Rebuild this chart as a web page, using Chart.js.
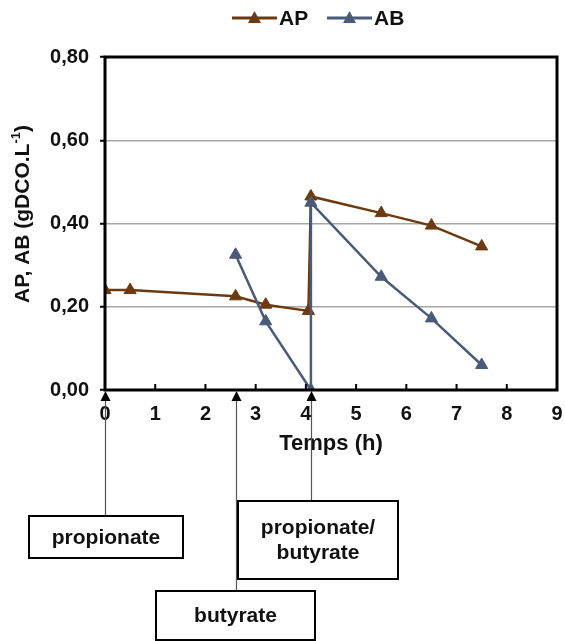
<!DOCTYPE html>
<html lang="fr">
<head>
    <meta charset="UTF-8">
    <title>AP, AB vs temps</title>
    <script src="https://cdn.jsdelivr.net/npm/chart.js"></script>
    <style>
        body { margin: 0; padding: 0; background: #fff; }
        #wrap { width: 565px; height: 641px; }
    </style>
</head>
<body>
<div id="wrap"><canvas id="chart" width="565" height="641"></canvas></div>
<script>
    // data
    const apTime = [0, 0.5, 2.6, 3.2, 4.05, 4.1, 5.5, 6.5, 7.5];
    const apValues = [0.24, 0.24, 0.225, 0.205, 0.19, 0.465, 0.425, 0.395, 0.345];
    const abTime = [2.6, 3.2, 4.1, 4.1, 5.5, 6.5, 7.5];
    const abValues = [0.325, 0.165, 0.0, 0.45, 0.272, 0.172, 0.06];
    const seriesNames = ['AP', 'AB'];
    const seriesColors = ['#6b3a0f', '#4a5b78'];
    const xTicks = [0, 1, 2, 3, 4, 5, 6, 7, 8, 9];
    const yTicks = [0, 0.2, 0.4, 0.6, 0.8];
    // injection times and their labels
    const injTime = [0, 2.6, 4.1];
    const injLabels = [['propionate'], ['butyrate'], ['propionate/', 'butyrate']];

    const FONT = "'Liberation Sans', Arial, sans-serif";

    function toPoints(xs, ys) {
        return xs.map((x, i) => ({ x: x, y: ys[i] }));
    }

    // boxes under the axis (left, top, width, height)
    const boxes = [
        { x: 29, y: 516, w: 154, h: 42 },
        { x: 156, y: 591, w: 159, h: 49 },
        { x: 238, y: 501, w: 160, h: 78 }
    ];

    const decor = {
        id: 'decor',
        afterDraw(chart) {
            const c = chart.ctx;
            const xs = chart.scales.x;
            const area = chart.chartArea;
            c.save();
            // inner x tick marks
            c.strokeStyle = '#000';
            c.lineWidth = 2;
            xTicks.forEach(t => {
                if (t === 0 || t === 9) return;
                const px = xs.getPixelForValue(t);
                c.beginPath();
                c.moveTo(px, area.bottom);
                c.lineTo(px, area.bottom - 6);
                c.stroke();
            });
            // frame
            c.lineWidth = 3;
            c.strokeRect(area.left, area.top, area.right - area.left, area.bottom - area.top);

            // y axis title with superscript
            c.fillStyle = '#111';
            c.translate(29, 214);
            c.rotate(-Math.PI / 2);
            c.textBaseline = 'alphabetic';
            c.textAlign = 'left';
            const main = 'AP, AB (gDCO.L';
            const sup = '-1';
            const tail = ')';
            c.font = 'bold 21px ' + FONT;
            const w1 = c.measureText(main).width;
            const w3 = c.measureText(tail).width;
            c.font = 'bold 13px ' + FONT;
            const w2 = c.measureText(sup).width;
            let x0 = -(w1 + w2 + w3) / 2;
            c.font = 'bold 21px ' + FONT;
            c.fillText(main, x0, 0);
            c.font = 'bold 13px ' + FONT;
            c.fillText(sup, x0 + w1, -9);
            c.font = 'bold 21px ' + FONT;
            c.fillText(tail, x0 + w1 + w2, 0);
            c.setTransform(1, 0, 0, 1, 0, 0);

            // injection arrows and boxes
            injTime.forEach((t, i) => {
                const px = Math.round(xs.getPixelForValue(t)) + 0.5;
                const b = boxes[i];
                c.strokeStyle = '#555';
                c.lineWidth = 1.2;
                c.beginPath();
                c.moveTo(px, area.bottom + 8);
                c.lineTo(px, b.y);
                c.stroke();
                c.fillStyle = '#000';
                c.beginPath();
                c.moveTo(px, area.bottom + 1);
                c.lineTo(px - 5, area.bottom + 11);
                c.lineTo(px + 5, area.bottom + 11);
                c.closePath();
                c.fill();

                c.strokeStyle = '#000';
                c.lineWidth = 2;
                c.fillStyle = '#fff';
                c.fillRect(b.x, b.y, b.w, b.h);
                c.strokeRect(b.x, b.y, b.w, b.h);
                c.fillStyle = '#111';
                c.font = 'bold 21px ' + FONT;
                c.textAlign = 'center';
                c.textBaseline = 'middle';
                const lines = injLabels[i];
                const lh = 25;
                lines.forEach((s, k) => {
                    c.fillText(s, b.x + b.w / 2, b.y + b.h / 2 + (k - (lines.length - 1) / 2) * lh + 1);
                });
            });

            // legend: line + triangle marker + name
            const legX = [232, 327];
            const legY = 18;
            seriesNames.forEach((name, i) => {
                const lx = legX[i];
                c.strokeStyle = seriesColors[i];
                c.lineWidth = 3;
                c.beginPath();
                c.moveTo(lx, legY);
                c.lineTo(lx + 45, legY);
                c.stroke();
                c.fillStyle = seriesColors[i];
                c.beginPath();
                c.moveTo(lx + 22.5, legY - 7);
                c.lineTo(lx + 29, legY + 5);
                c.lineTo(lx + 16, legY + 5);
                c.closePath();
                c.fill();
                c.fillStyle = '#111';
                c.font = 'bold 21px ' + FONT;
                c.textAlign = 'left';
                c.textBaseline = 'middle';
                c.fillText(name, lx + 47, legY + 1);
            });
            c.restore();
        }
    };

    const ds = [
        { label: seriesNames[0], data: toPoints(apTime, apValues) },
        { label: seriesNames[1], data: toPoints(abTime, abValues) }
    ].map((d, i) => Object.assign(d, {
        showLine: true,
        borderColor: seriesColors[i],
        backgroundColor: seriesColors[i],
        borderWidth: 2.5,
        pointStyle: 'triangle',
        pointRadius: 7,
        pointBorderWidth: 1,
        tension: 0
    }));

    new Chart(document.getElementById('chart'), {
        type: 'scatter',
        data: { datasets: [ds[1], ds[0]] },
        options: {
            responsive: false,
            animation: false,
            devicePixelRatio: 1,
            layout: { padding: { left: 0, right: 5, top: 57, bottom: 0 } },
            plugins: { legend: { display: false }, tooltip: { enabled: false } },
            scales: {
                x: {
                    type: 'linear',
                    min: 0, max: 9,
                    afterFit(s) { s.height = 251; s.paddingLeft = 0; s.paddingRight = 0; },
                    afterBuildTicks(s) { s.ticks = xTicks.map(v => ({ value: v })); },
                    grid: { display: false, drawTicks: false },
                    border: { display: false },
                    ticks: {
                        color: '#111',
                        padding: 12,
                        font: { family: FONT, size: 20, weight: 'bold' }
                    },
                    title: {
                        display: true,
                        text: 'Temps (h)',
                        color: '#111',
                        font: { family: FONT, size: 22, weight: 'bold' },
                        padding: { top: 0, bottom: 184 }
                    }
                },
                y: {
                    min: 0, max: 0.8,
                    afterFit(s) { s.width = 105; },
                    afterBuildTicks(s) { s.ticks = yTicks.map(v => ({ value: v })); },
                    grid: {
                        color: ctx => (ctx.tick && (ctx.tick.value === 0 || ctx.tick.value === 0.8)) ? 'rgba(0,0,0,0)' : '#a6a6a6',
                        lineWidth: 1.5,
                        tickColor: '#000',
                        tickLength: 5,
                        tickWidth: 2
                    },
                    border: { display: false },
                    ticks: {
                        color: '#111',
                        padding: 11,
                        font: { family: FONT, size: 20, weight: 'bold' },
                        callback: v => v.toFixed(2).replace('.', ',')
                    }
                }
            }
        },
        plugins: [decor]
    });
</script>
</body>
</html>
